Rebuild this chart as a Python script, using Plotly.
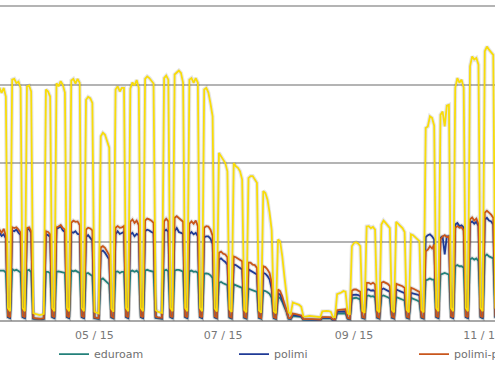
import pandas as pd
import plotly.graph_objects as go

# Daily dates, Monday 16 Mar 2015 .. Sunday 8 Nov 2015 (one row per week below)
dates = pd.date_range("2015-03-16", "2015-11-08", freq="D")

eduroam = [
    640, 640, 635, 640, 615, 48, 36,
    660, 640, 650, 635, 615, 48, 36,
    640, 650, 620, 30, 28, 25, 22,
    24, 28, 625, 625, 605, 48, 36,
    625, 630, 625, 620, 610, 48, 36,
    640, 630, 640, 630, 610, 48, 36,
    600, 610, 590, 570, 35, 30, 28,
    525, 540, 515, 495, 465, 45, 34,
    625, 630, 610, 625, 625, 48, 36,
    630, 640, 625, 640, 610, 48, 36,
    640, 650, 640, 630, 625, 40, 34,
    32, 30, 640, 650, 630, 48, 36,
    640, 650, 650, 640, 625, 48, 36,
    630, 640, 625, 630, 610, 48, 36,
    600, 605, 600, 580, 545, 45, 35,
    485, 495, 480, 470, 455, 42, 33,
    465, 455, 445, 440, 420, 40, 32,
    410, 400, 390, 385, 370, 38, 30,
    385, 380, 365, 345, 295, 35, 28,
    305, 290, 245, 180, 120, 28, 25,
    62, 60, 58, 56, 52, 18, 16,
    18, 18, 17, 16, 15, 14, 14,
    35, 36, 36, 35, 33, 15, 14,
    95, 95, 98, 100, 98, 28, 22,
    285, 295, 295, 285, 275, 38, 30,
    315, 325, 310, 315, 300, 40, 32,
    315, 324, 315, 302, 286, 40, 32,
    302, 294, 286, 273, 260, 40, 32,
    294, 286, 273, 260, 243, 40, 32,
    515, 525, 540, 525, 525, 48, 36,
    590, 600, 610, 600, 590, 48, 36,
    695, 710, 695, 695, 675, 48, 36,
    780, 800, 780, 795, 760, 48, 36,
    820, 845, 820, 810, 795, 48, 36,
]

polimi = [
    1100, 1120, 1080, 1100, 1050, 52, 40,
    1150, 1140, 1160, 1120, 1090, 52, 40,
    1160, 1170, 1120, 33, 30, 26, 24,
    26, 30, 1100, 1090, 1070, 52, 40,
    1170, 1180, 1200, 1150, 1130, 52, 40,
    1130, 1120, 1140, 1105, 1100, 52, 40,
    1065, 1090, 1055, 1020, 38, 33, 30,
    880, 895, 865, 820, 780, 48, 38,
    1100, 1140, 1105, 1120, 1130, 52, 40,
    1100, 1120, 1075, 1105, 1090, 52, 40,
    1140, 1160, 1150, 1130, 1120, 45, 38,
    35, 33, 1140, 1160, 1130, 52, 40,
    1140, 1180, 1130, 1120, 1105, 52, 40,
    1105, 1130, 1100, 1120, 1075, 52, 40,
    1065, 1075, 1075, 1045, 980, 50, 38,
    780, 795, 770, 750, 715, 48, 37,
    715, 710, 690, 675, 655, 45, 35,
    655, 640, 630, 610, 590, 43, 34,
    610, 600, 570, 525, 405, 40, 32,
    350, 335, 270, 200, 130, 32, 28,
    78, 75, 72, 68, 60, 20, 18,
    20, 20, 19, 18, 17, 15, 15,
    40, 42, 42, 40, 38, 16, 15,
    115, 118, 120, 125, 124, 32, 25,
    330, 335, 335, 330, 315, 42, 33,
    400, 400, 385, 390, 378, 45, 35,
    400, 412, 400, 387, 370, 45, 35,
    400, 387, 378, 370, 353, 45, 35,
    358, 353, 345, 336, 324, 45, 35,
    1065, 1090, 1100, 1075, 1035, 52, 40,
    1055, 1075, 845, 1075, 1075, 52, 40,
    1225, 1245, 1205, 1215, 1185, 52, 40,
    1245, 1265, 1235, 1260, 1205, 52, 40,
    1290, 1310, 1275, 1265, 1225, 52, 40,
]

polimi_protected = [
    1150, 1160, 1120, 1170, 1080, 65, 48,
    1190, 1180, 1190, 1160, 1120, 65, 48,
    1180, 1190, 1140, 40, 35, 30, 28,
    30, 35, 1140, 1130, 1100, 65, 48,
    1190, 1200, 1220, 1180, 1160, 65, 48,
    1245, 1275, 1260, 1265, 1215, 65, 48,
    1160, 1185, 1175, 1150, 45, 40, 35,
    935, 950, 930, 885, 835, 60, 45,
    1185, 1205, 1185, 1190, 1205, 65, 48,
    1260, 1290, 1245, 1275, 1215, 65, 48,
    1275, 1300, 1290, 1275, 1245, 55, 45,
    42, 40, 1265, 1300, 1265, 65, 48,
    1310, 1330, 1310, 1290, 1260, 65, 48,
    1235, 1265, 1235, 1275, 1205, 65, 48,
    1185, 1205, 1200, 1160, 1080, 62, 46,
    865, 880, 855, 845, 810, 58, 44,
    820, 810, 795, 780, 760, 55, 42,
    740, 740, 715, 710, 675, 52, 40,
    695, 685, 655, 610, 480, 48, 37,
    400, 380, 315, 225, 150, 40, 35,
    95, 90, 85, 80, 70, 25, 22,
    25, 25, 24, 22, 20, 18, 18,
    48, 50, 50, 48, 45, 20, 18,
    135, 140, 145, 150, 148, 40, 30,
    385, 400, 400, 385, 370, 50, 40,
    485, 485, 470, 485, 465, 55, 42,
    485, 497, 485, 472, 442, 55, 42,
    472, 463, 454, 442, 421, 55, 42,
    421, 412, 400, 387, 370, 55, 42,
    885, 905, 950, 920, 970, 65, 48,
    1035, 1075, 1090, 1065, 1075, 65, 48,
    1185, 1205, 1185, 1190, 1150, 65, 48,
    1290, 1315, 1275, 1300, 1225, 65, 48,
    1375, 1400, 1375, 1350, 1310, 65, 48,
]

total = [
    2900, 2960, 2895, 2960, 2850, 165, 125,
    3065, 3075, 3020, 3040, 2960, 165, 125,
    2980, 2990, 2915, 100, 90, 80, 75,
    80, 90, 2940, 2915, 2850, 165, 125,
    3020, 2980, 3045, 3000, 2900, 165, 125,
    3055, 3075, 3015, 3075, 3025, 165, 125,
    2810, 2845, 2830, 2770, 118, 105, 95,
    2345, 2390, 2365, 2280, 2200, 155, 118,
    2940, 2980, 2915, 2960, 2960, 165, 125,
    2950, 3030, 2990, 3060, 2960, 165, 125,
    3075, 3105, 3085, 3055, 3015, 140, 118,
    110, 103, 3085, 3115, 3065, 165, 125,
    3130, 3155, 3180, 3150, 3025, 165, 125,
    3065, 3085, 3025, 3085, 3025, 165, 125,
    2940, 2960, 2900, 2760, 2600, 160, 120,
    2135, 2090, 2050, 2005, 1900, 150, 115,
    2005, 1965, 1945, 1900, 1795, 140, 110,
    1815, 1840, 1840, 1805, 1755, 135, 105,
    1650, 1625, 1540, 1375, 1150, 125, 98,
    1035, 1010, 825, 570, 360, 110, 90,
    235, 225, 215, 205, 180, 60, 55,
    65, 65, 62, 58, 55, 50, 48,
    122, 126, 128, 124, 118, 52, 48,
    340, 350, 362, 380, 372, 100, 80,
    950, 990, 1000, 985, 950, 130, 103,
    1200, 1205, 1180, 1195, 1160, 140, 110,
    1225, 1275, 1245, 1215, 1180, 140, 110,
    1260, 1235, 1205, 1180, 1130, 140, 110,
    1100, 1090, 1065, 1045, 1015, 140, 110,
    2450, 2470, 2600, 2580, 2480, 165, 125,
    2620, 2660, 2470, 2735, 2745, 165, 125,
    2960, 3085, 3025, 3065, 2960, 165, 125,
    3235, 3360, 3320, 3340, 3255, 165, 125,
    3425, 3485, 3445, 3405, 3380, 165, 125,
]

series_names = ["eduroam", "polimi", "polimi-protected", "total"]
series_values = [eduroam, polimi, polimi_protected, total]
series_colors = ["#23807a", "#1f3a96", "#c8561c", "#f8dc0a"]
series_legends = ["legend", "legend2", "legend3", None]

fig = go.Figure()

# soft shadows under the lines
for vals in series_values:
    fig.add_trace(go.Scatter(
        x=dates, y=vals, mode="lines", hoverinfo="skip", showlegend=False,
        line=dict(color="rgba(0,0,0,0.10)", width=4),
    ))

for name, vals, color, lg in zip(series_names, series_values, series_colors, series_legends):
    fig.add_trace(go.Scatter(
        x=dates, y=vals, mode="lines", name=name,
        line=dict(color=color, width=1.8),
        showlegend=lg is not None,
        legend=lg if lg else "legend",
    ))

W, H = 495, 366
legend_font = dict(family="DejaVu Sans", size=11, color="#707070")
leg_common = dict(orientation="h", xanchor="left", yanchor="middle", y=-0.103,
                  bgcolor="rgba(0,0,0,0)", font=legend_font, borderwidth=0)

fig.update_layout(
    width=W, height=H,
    margin=dict(l=0, r=0, t=0, b=45, autoexpand=False),
    paper_bgcolor="white", plot_bgcolor="white",
    font=dict(family="DejaVu Sans", size=11, color="#777777"),
    legend=dict(x=54 / W, **leg_common),
    legend2=dict(x=234 / W, **leg_common),
    legend3=dict(x=414 / W, **leg_common),
    xaxis=dict(
        type="date",
        range=["2015-03-17 05:34", "2015-11-06 20:00"],
        tick0="2015-01-01", dtick="M2", tickformat="%m / %y",
        showgrid=False, zeroline=False, showline=False,
        ticks="outside", ticklen=4, tickcolor="rgba(0,0,0,0)",
        ticklabeloverflow="allow",
        tickfont=dict(family="DejaVu Sans", size=11, color="#777777"),
    ),
    yaxis=dict(
        range=[0, 4076], dtick=1000, showticklabels=False,
        showgrid=True, gridcolor="#b4b4b4", gridwidth=2,
        zeroline=True, zerolinecolor="#a8a8a8", zerolinewidth=2,
        showline=False,
    ),
)

fig.write_html(
    "out.html",
    config={"displayModeBar": False},
    post_script="document.body.style.margin='0px';document.body.style.overflow='hidden';",
)
